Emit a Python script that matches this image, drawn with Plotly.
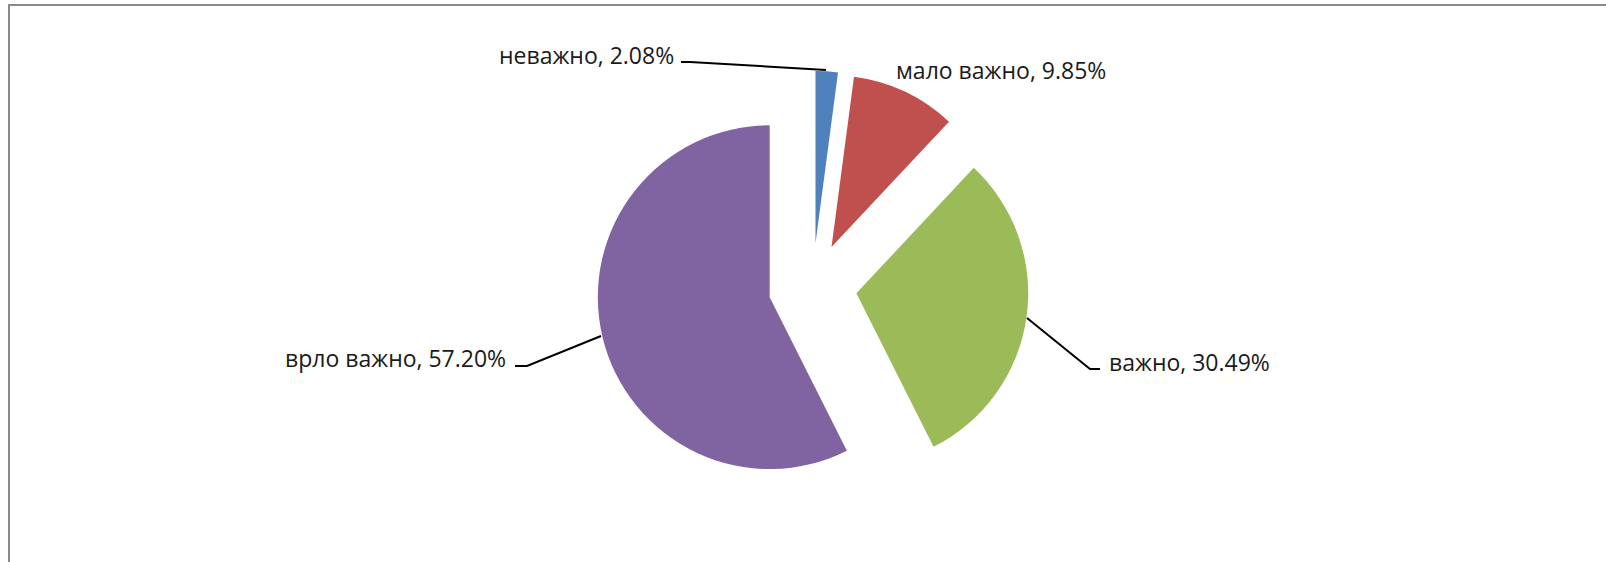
import plotly.graph_objects as go

W, H = 1606, 562

categories = ["неважно", "мало важно", "важно", "врло важно"]
values = [2.08, 9.85, 30.49, 57.20]
colors = ["#4F81BD", "#C0504D", "#9BBB59", "#8064A2"]
pulls = [0.257, 0.257, 0.257, 0.257]

# label layout (pixel positions of text anchors, leader line paths)
label_pos = [(676, 55, "right"), (894, 70, "left"), (1107, 362, "left"), (508, 358, "right")]
leaders = [
    [(681, 62), (690, 62), (826, 70)],
    None,
    [(1027, 318), (1090, 369), (1100, 369)],
    [(515, 366), (527, 366), (601, 336)],
]


def px(x):
    return x / W


def py(y):
    return 1 - y / H


fig = go.Figure(go.Pie(
    labels=categories,
    values=values,
    sort=False,
    direction="clockwise",
    rotation=0,
    pull=pulls,
    marker=dict(colors=colors, line=dict(width=0)),
    textinfo="none",
    hoverinfo="label+percent",
    showlegend=False,
    domain=dict(x=[0.206, 0.806], y=[py(503), py(71)]),
))

annotations = []
for cat, val, (x, y, anchor) in zip(categories, values, label_pos):
    annotations.append(dict(
        x=px(x), y=py(y), xref="paper", yref="paper",
        text=f"{cat}, {val:.2f}%", showarrow=False,
        xanchor=anchor, yanchor="middle",
        font=dict(family="Open Sans", size=23, color="#1a1a1a"),
    ))

shapes = [dict(type="rect", xref="paper", yref="paper",
               x0=px(9), y0=py(5), x1=1.02, y1=-0.02,
               line=dict(color="#8a8a8a", width=2), fillcolor="rgba(0,0,0,0)")]
for pts in leaders:
    if not pts:
        continue
    path = "M " + " L ".join(f"{px(x)},{py(y)}" for x, y in pts)
    shapes.append(dict(type="path", xref="paper", yref="paper", path=path,
                       line=dict(color="#000000", width=2)))

fig.update_layout(
    width=W, height=H,
    margin=dict(l=0, r=0, t=0, b=0),
    paper_bgcolor="white", plot_bgcolor="white",
    annotations=annotations, shapes=shapes,
)

fig.write_html(
    "out.html",
    config={"displayModeBar": False},
    post_script="document.body.style.margin='0';document.body.style.overflow='hidden';",
)
